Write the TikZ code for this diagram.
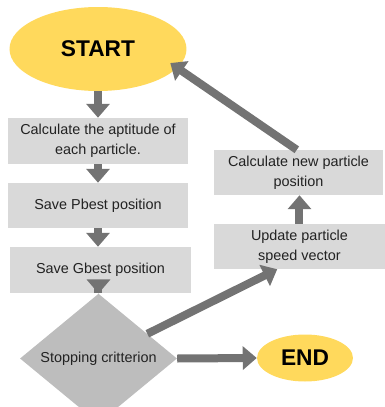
\documentclass[tikz,border=0pt]{standalone}
\usepackage{fontspec}
\setmainfont{Liberation Sans}
\usetikzlibrary{calc}
\usetikzlibrary{arrows, arrows.meta}
\usetikzlibrary{shapes.geometric}

\definecolor{startyellow}{HTML}{FFD95C}
\definecolor{boxgray}{HTML}{D9D9D9}
\definecolor{decisiongray}{HTML}{BDBDBD}
\definecolor{arrowgray}{HTML}{737373}
\definecolor{textdark}{HTML}{222222}

\begin{document}
\begin{tikzpicture}[x=0.03cm, y=-0.03cm]

\def\px{0.03cm}

\useasboundingbox (0, 0) rectangle (385, 407) ;

% styles

\tikzstyle{terminal} = [shape=ellipse, fill=startyellow, inner sep=0pt,
	font=\fontsize{19.4}{22}\selectfont\bfseries, text=black]
\tikzstyle{stepbox} = [shape=rectangle, fill=boxgray, inner sep=0pt, align=center,
	minimum height=46*\px, font=\fontsize{12.3}{17}\selectfont, text=textdark]
\tikzstyle{decision} = [shape=diamond, fill=decisiongray, inner sep=0pt,
	minimum width=157*\px, minimum height=97*\px, font=\fontsize{12.3}{17}\selectfont, text=textdark]
\tikzstyle{flow arrow} =
	[line width=8*\px, arrowgray, -{Triangle[length=14*\px, width=23*\px]}]

% main column

\node [terminal, minimum width=177*\px, minimum height=84*\px] (start) at (98, 49) {START} ;

\node [stepbox, minimum width=180*\px] (aptitude) at (98, 141) {Calculate the aptitude of\\each particle.} ;
\node [stepbox, minimum width=180*\px, minimum height=45*\px] (pbest) at (98, 205.5) {Save Pbest position} ;
\node [stepbox, minimum width=181*\px] (gbest) at (100.5, 270) {Save Gbest position} ;

\node [decision] (stop) at (98.5, 358.5) {Stopping critterion} ;

\node [terminal, minimum width=96*\px, minimum height=47*\px] (end) at (305, 358) {END} ;

% right column

\node [stepbox, minimum width=171*\px, minimum height=45*\px] (speed) at (299.5, 246.5) {Update particle\\speed vector} ;
\node [stepbox, minimum width=169*\px, minimum height=45*\px] (newpos) at (298.5, 172.5) {Calculate new particle\\position} ;

% connectors

\draw [flow arrow] (start.south) -- (aptitude.north) ;
\draw [flow arrow] (aptitude.south) -- (pbest.north) ;
\draw [flow arrow] (pbest.south) -- (pbest.south |- gbest.north) ;
\draw [flow arrow] (gbest.south -| stop.north) -- (stop.north) ;

\draw [flow arrow] (stop.east) -- (end.west) ;
\draw [flow arrow] ($(stop.north)!0.62!(stop.east)$) -- ($(speed.south west)!0.37!(speed.south east)$) ;
\draw [flow arrow] (speed.north) -- (speed.north |- newpos.south) ;
\draw [flow arrow] ($(newpos.north west)!0.49!(newpos.north east)$) -- ($(start.center)!0.88!(start.-11)$) ;

\end{tikzpicture}
\end{document}
